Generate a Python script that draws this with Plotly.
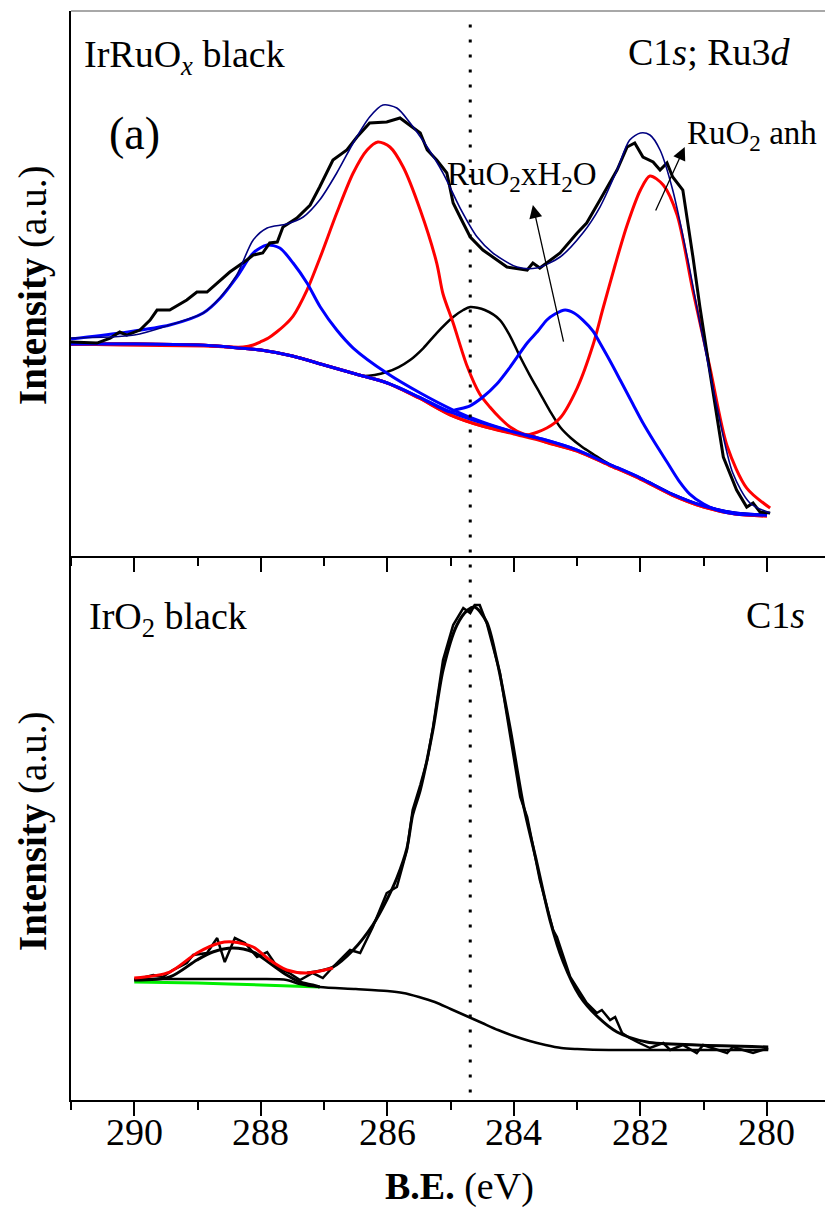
import plotly.graph_objects as go

FONT = "Liberation Serif, Times New Roman, serif"

# ================= Panel (a): IrRuOx black, C1s; Ru3d =================
# Shirley backgrounds (blue / red)
bg_e = [291.0, 290.0, 289.0, 288.5, 288.0, 287.5, 287.0, 286.5, 286.0, 285.5, 285.0,
        284.5, 284.0, 283.5, 283.0, 282.5, 282.0, 281.5, 281.0, 280.5, 280.0]
bg_blue_i = [212, 212, 211, 209, 206, 200, 191, 182, 173, 159, 144,
             133, 124, 116, 106, 92, 78, 62, 50, 43, 41]
bg_red_i = [212, 212, 211, 209, 206, 200, 191, 182, 173, 158, 141,
            130, 122, 114, 105, 91, 77, 61, 49, 42, 40]

# blue component ~287.9 eV
blue1_e = [291.0, 290.23, 289.44, 288.91, 288.64, 288.38, 288.12, 287.90, 287.70, 287.49,
           287.27, 287.06, 286.80, 286.54, 286.01, 285.48, 284.96, 284.5, 284.0, 283.5,
           283.0, 282.5, 282.0, 281.5, 281.0, 280.5, 280.0]
blue1_i = [217, 223, 231, 243, 258, 279, 303, 311, 308, 293,
           273, 249, 226, 208, 183, 163, 146, 134, 124, 116,
           106, 92, 78, 62, 50, 43, 41]

# red component ~286.1 eV
red1_e = [291.0, 290.22, 288.90, 288.50, 288.28, 288.12, 288.01, 287.88, 287.75, 287.62,
          287.49, 287.27, 287.06, 286.80, 286.54, 286.32, 286.15, 285.96, 285.75, 285.48,
          285.22, 285.12, 284.96, 284.74, 284.54, 284.38, 284.22, 284.06, 283.85, 283.70,
          283.5, 283.0, 282.5, 282.0, 281.5, 281.0, 280.5, 280.0]
red1_i = [212, 211, 210, 209, 209, 211, 214, 218, 224, 231,
          240, 266, 299, 343, 383, 406, 414, 409, 389, 346,
          293, 262, 233, 190, 162, 149, 138, 129, 122, 120,
          114, 105, 91, 77, 61, 49, 42, 40]

# black component ~284.6 eV
blk_e = [291.0, 290.0, 289.0, 288.5, 288.0, 287.5, 287.0, 286.5, 286.39, 286.20,
         286.01, 285.82, 285.64, 285.43, 285.22, 284.96, 284.80, 284.69, 284.46, 284.22,
         284.06, 283.90, 283.75, 283.59, 283.43, 283.27, 283.10, 282.92, 282.75, 282.5,
         282.0, 281.5, 281.0, 280.5, 280.0]
blk_i = [212, 212, 211, 209, 206, 200, 191, 182, 180, 181,
         184, 189, 196, 208, 223, 239, 246, 249, 246, 236,
         220, 199, 181, 163, 145, 129, 118, 109, 102, 92,
         78, 62, 50, 43, 41]

# blue component ~283.2 eV (RuO2xH2O)
blue2_e = [291.0, 290.0, 289.0, 288.5, 288.0, 287.5, 287.0, 286.5, 286.0, 285.5, 285.0,
           284.93, 284.70, 284.49, 284.27, 284.06, 283.79, 283.62, 283.48, 283.35, 283.19,
           283.05, 282.91, 282.75, 282.64, 282.48, 282.32, 282.12, 281.96, 281.77, 281.58,
           281.40, 281.22, 281.00, 280.79, 280.50, 280.0]
blue2_i = [212, 212, 211, 209, 206, 200, 191, 182, 173, 159, 144,
           146, 150, 159, 172, 189, 213, 225, 236, 242, 246,
           243, 236, 225, 213, 195, 176, 152, 133, 113, 94,
           76, 62, 52, 46, 42, 41]

# red component ~281.8 eV (RuO2 anh)
red2_e = [291.0, 290.0, 289.0, 288.5, 288.0, 287.5, 287.0, 286.5, 286.0, 285.5, 285.0,
          284.5, 284.0, 283.79, 283.48, 283.27, 283.00, 282.75, 282.59, 282.40, 282.21,
          282.00, 281.85, 281.64, 281.42, 281.17, 280.90, 280.63, 280.32, 279.95]
red2_i = [212, 212, 211, 209, 206, 200, 191, 182, 173, 158, 141,
          130, 123, 121, 128, 138, 168, 211, 248, 291, 331,
          366, 380, 371, 341, 265, 188, 110, 68, 48]

# envelope (navy)
env_e = [291.0, 290.0, 289.44, 288.91, 288.65, 288.38, 288.12, 287.90, 287.59, 287.33,
         287.07, 286.80, 286.54, 286.28, 286.07, 285.85, 285.64, 285.37, 285.12, 284.85,
         284.58, 284.33, 283.95, 283.64, 283.27, 282.91, 282.64, 282.37, 282.17, 282.00,
         281.85, 281.69, 281.49, 281.26, 281.06, 280.79, 280.54, 280.27, 279.95]
env_i = [218, 221, 231, 243, 258, 281, 316, 328, 332, 339,
         356, 383, 413, 439, 451, 448, 433, 409, 383, 348,
         319, 303, 289, 288, 299, 323, 349, 386, 416, 423,
         421, 406, 366, 299, 233, 149, 83, 53, 43]

# measured spectrum (black, noisy)
exp_e = [291.00, 290.59, 290.38, 290.23, 290.12, 289.91, 289.75, 289.64, 289.44, 289.17,
         289.01, 288.85, 288.69, 288.49, 288.22, 288.12, 287.97, 287.86, 287.74, 287.65,
         287.43, 287.22, 287.07, 286.86, 286.64, 286.48, 286.28, 286.01, 285.80, 285.60,
         285.48, 285.37, 285.22, 285.06, 284.96, 284.85, 284.69, 284.49, 284.27, 284.11,
         283.79, 283.70, 283.59, 283.27, 283.00, 282.85, 282.64, 282.37, 282.21, 282.09,
         281.96, 281.80, 281.69, 281.58, 281.49, 281.33, 281.17, 281.06, 280.90, 280.69,
         280.48, 280.32, 280.22, 280.11, 279.95]
exp_i = [214, 213, 218, 224, 221, 226, 236, 246, 246, 256,
         264, 264, 273, 284, 296, 301, 303, 313, 314, 329,
         338, 351, 369, 396, 406, 419, 433, 434, 438, 429,
         423, 406, 396, 383, 353, 339, 319, 306, 296, 289,
         286, 293, 288, 303, 323, 333, 356, 386, 409, 413,
         399, 394, 386, 393, 379, 366, 299, 249, 183, 99,
         66, 49, 53, 44, 43]

# ================= Panel (b): IrO2 black, C1s =================
green_e = [290.0, 289.0, 288.0, 287.07]
green_i = [118, 117, 115, 113]

bgb_e = [290.0, 289.0, 288.0, 287.59, 287.38, 287.07, 286.5, 286.0, 285.75, 285.5,
         285.25, 285.0, 284.75, 284.5, 284.25, 284.0, 283.75, 283.5, 283.25, 283.0,
         282.5, 281.0, 279.98]
bgb_i = [121, 121, 121, 120, 116, 113, 111, 109, 107, 103,
         98, 91, 84, 77, 70, 64, 59, 55, 52, 51,
         50, 50, 50]

small_blk_e = [290.0, 289.44, 289.01, 288.76, 288.44, 288.12, 287.86, 287.59, 287.38, 287.18, 287.07]
small_blk_i = [120, 123, 140, 148, 152, 148, 137, 125, 118, 115, 113]

small_red_e = [290.0, 289.44, 289.01, 288.65, 288.44, 288.12, 287.86, 287.59, 287.27, 286.86]
small_red_i = [122, 128, 147, 157, 158, 153, 140, 130, 127, 132]

envb_e = [287.27, 286.86, 286.54, 286.23, 286.01, 285.85, 285.69, 285.60, 285.48, 285.28,
          285.12, 284.90, 284.73, 284.62, 284.43, 284.27, 284.06, 283.85, 283.64, 283.43,
          283.22, 282.96, 282.69, 282.37, 281.90, 281.11, 279.98]
envb_i = [127, 133, 150, 175, 200, 222, 252, 285, 310, 370,
          430, 475, 490, 493, 478, 440, 372, 295, 238, 180,
          138, 104, 84, 68, 58, 55, 53]

expb_e = [290.00, 289.70, 289.55, 289.39, 289.17, 289.07, 288.85, 288.69, 288.57, 288.41,
          288.25, 288.06, 287.90, 287.74, 287.55, 287.38, 287.18, 287.02, 286.86, 286.59,
          286.43, 286.23, 286.01, 285.85, 285.69, 285.60, 285.48, 285.37, 285.28, 285.12,
          284.96, 284.80, 284.69, 284.62, 284.54, 284.43, 284.22, 284.06, 283.90, 283.79,
          283.59, 283.38, 283.32, 283.11, 282.85, 282.69, 282.61, 282.48, 282.40, 282.29,
          282.17, 282.05, 281.85, 281.64, 281.53, 281.33, 281.11, 281.01, 280.63, 280.54,
          280.22, 279.98]
expb_i = [120, 125, 123, 130, 137, 145, 147, 162, 138, 162,
          157, 143, 148, 133, 127, 120, 127, 122, 133, 150,
          147, 173, 207, 213, 250, 290, 315, 340, 372, 440,
          475, 492, 487, 495, 495, 477, 427, 363, 303, 283,
          220, 170, 163, 123, 97, 87, 90, 80, 83, 67,
          62, 58, 52, 57, 50, 55, 47, 55, 47, 53,
          47, 52]

major_ticks = [290, 288, 286, 284, 282, 280]
major_labels = ["290", "288", "286", "284", "282", "280"]
minor_ticks = [291, 289, 287, 285, 283, 281]
ref_line_ev = 284.69

fig = go.Figure()


def add(x, y, color, width, xa, ya, shape="spline"):
    fig.add_trace(go.Scatter(
        x=x, y=y, mode="lines",
        line=dict(color=color, width=width, shape=shape, smoothing=0.8),
        xaxis=xa, yaxis=ya, showlegend=False, hoverinfo="skip"))


# top panel (x2, y2)
add(bg_e, bg_red_i, "#ff0000", 3, "x2", "y2")
add(bg_e, bg_blue_i, "#0000ff", 3, "x2", "y2")
add(blk_e, blk_i, "#000000", 2.5, "x2", "y2")
add(red1_e, red1_i, "#ff0000", 3, "x2", "y2")
add(red2_e, red2_i, "#ff0000", 3, "x2", "y2")
add(blue1_e, blue1_i, "#0000ff", 3, "x2", "y2")
add(blue2_e, blue2_i, "#0000ff", 3, "x2", "y2")
add(exp_e, exp_i, "#000000", 3, "x2", "y2", shape="linear")
add(env_e, env_i, "#000080", 1.6, "x2", "y2")

# bottom panel (x, y)
add(green_e, green_i, "#00ee00", 3, "x", "y")
add(bgb_e, bgb_i, "#000000", 2.5, "x", "y")
add(expb_e, expb_i, "#000000", 2.5, "x", "y", shape="linear")
add(envb_e, envb_i, "#000000", 3, "x", "y")
add(small_blk_e, small_blk_i, "#000000", 3, "x", "y")
add(small_red_e, small_red_i, "#ff0000", 3, "x", "y")

axis_x = dict(
    range=[291, 279.083], showline=True, linecolor="black", linewidth=2,
    ticks="outside", ticklen=14, tickwidth=2, tickcolor="black",
    tickvals=major_ticks, showticklabels=False,
    minor=dict(tickvals=minor_ticks, ticks="outside", ticklen=8, tickwidth=2, tickcolor="black"),
    showgrid=False, zeroline=False, mirror=False,
)
axis_y = dict(showline=True, linecolor="black", linewidth=2, ticks="",
              showticklabels=False, showgrid=False, zeroline=False)

split = 0.4995
fig.update_layout(
    width=825, height=1209,
    margin=dict(l=71, r=0, t=11, b=109),
    paper_bgcolor="white", plot_bgcolor="white",
    font=dict(family=FONT, color="black"),
    xaxis=dict(**axis_x, domain=[0, 1], anchor="y"),
    xaxis2=dict(**axis_x, domain=[0, 1], anchor="y2", matches="x"),
    yaxis=dict(**axis_y, domain=[0, split], range=[0, 544]),
    yaxis2=dict(**axis_y, domain=[split, 1], range=[0, 545]),
)

# tick labels of the B.E. axis, placed on the x scale
for v, lab in zip(major_ticks, major_labels):
    fig.add_annotation(text=lab, x=v, y=-0.0290, xref="x", yref="paper",
                       xanchor="center", yanchor="middle", showarrow=False,
                       font=dict(family=FONT, size=38, color="black"))

# top border (grey)
fig.add_shape(type="line", xref="paper", yref="paper", x0=0, x1=1, y0=1, y1=1,
              line=dict(color="#a8a8a8", width=2))
# dotted reference line
fig.add_shape(type="line", xref="x", yref="paper", x0=ref_line_ev, x1=ref_line_ev,
              y0=0.007, y1=0.992, line=dict(color="black", width=3, dash="3px,12px"))

# arrows
fig.add_annotation(x=283.70, y=351, ax=283.21, ay=213, xref="x2", yref="y2",
                   axref="x2", ayref="y2", text="", showarrow=True,
                   arrowhead=2, arrowsize=2, arrowwidth=1.3, arrowcolor="black")
fig.add_annotation(x=281.30, y=409, ax=281.77, ay=344, xref="x2", yref="y2",
                   axref="x2", ayref="y2", text="", showarrow=True,
                   arrowhead=2, arrowsize=2, arrowwidth=1.3, arrowcolor="black")


def txt(text, x, y, size, xanchor="left", angle=0):
    fig.add_annotation(text=text, x=x, y=y, xref="paper", yref="paper",
                       xanchor=xanchor, yanchor="middle", showarrow=False,
                       textangle=angle, font=dict(family=FONT, size=size, color="black"))


txt("IrRuO<sub><i>x</i></sub> black", 0.0146, 0.9578, 38)
txt("(a)", 0.0477, 0.8871, 46)
txt("C1<i>s</i>; Ru3<i>d</i>", 0.9576, 0.9628, 38, xanchor="right")
txt("RuO<sub>2</sub> anh", 0.8143, 0.8860, 33)
txt("RuO<sub>2</sub>xH<sub>2</sub>O", 0.4960, 0.8480, 33)
txt("IrO<sub>2</sub> black", 0.0212, 0.4417, 38)
txt("C1<i>s</i>", 0.9761, 0.4454, 38, xanchor="right")
txt("<b>Intensity</b> (a.u.)", -0.0504, 0.7484, 39, xanchor="center", angle=-90)
txt("<b>Intensity</b> (a.u.)", -0.0504, 0.2470, 39, xanchor="center", angle=-90)
txt("<b>B.E.</b> (eV)", 0.5146, -0.079, 38, xanchor="center")

fig.write_html("out.html")
